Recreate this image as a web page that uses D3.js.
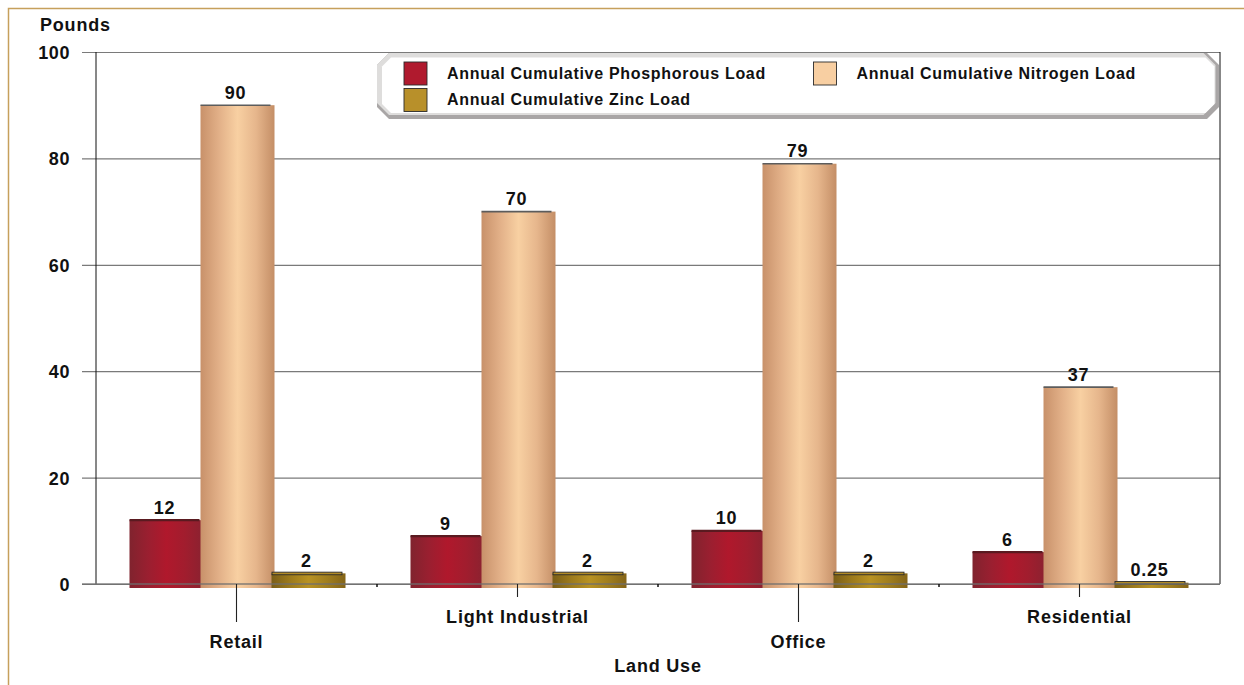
<!DOCTYPE html>
<html>
<head>
<meta charset="utf-8">
<script src="https://cdn.jsdelivr.net/npm/d3@7"></script>
<style>
  html, body { margin: 0; padding: 0; background: #fff; }
  svg { display: block; font-family: "Liberation Sans", Arial, sans-serif; font-weight: bold; }
</style>
</head>
<body>
<svg id="chart" width="1244" height="685"></svg>
<script>
// Land-use pollutant loads (pounds per year)
const categories = ["Retail", "Light Industrial", "Office", "Residential"];
const phosphorousLoad = [12, 9, 10, 6];
const nitrogenLoad = [90, 70, 79, 37];
const zincLoad = [2, 2, 2, 0.25];
const valueLabels = [
  ["12", "9", "10", "6"],
  ["90", "70", "79", "37"],
  ["2", "2", "2", "0.25"]
];
const yTicks = [0, 20, 40, 60, 80, 100];

const series = [
  { key: "Annual Cumulative Phosphorous Load", values: phosphorousLoad,
    stops: ["#80232e", "#9a1f30", "#b0182c", "#a11d2e", "#8a2230"], swatch: "#b01a2e",
    cap: "#5a1a20", capFill: null, capW: 2.2 },
  { key: "Annual Cumulative Nitrogen Load", values: nitrogenLoad,
    stops: ["#c8916a", "#e2b088", "#f8d0a2", "#e6b68c", "#c48e66"], swatch: "#f8cfa2",
    cap: "#5c5c5c", capFill: null, capW: 1.6 },
  { key: "Annual Cumulative Zinc Load", values: zincLoad,
    stops: ["#7a5e18", "#9c7a1c", "#b89222", "#a07e1e", "#846418"], swatch: "#b8902a",
    cap: "#2b2b2b", capFill: "#b08a26", capW: 0.9 }
];

const svg = d3.select("#chart");
const plotLeft = 96, plotRight = 1220, plotTop = 52, plotBase = 584, depth = 4;

const x = d3.scaleBand().domain(categories).range([plotLeft, plotRight]).padding(0);
const xs = d3.scaleBand().domain(series.map(s => s.key)).range([-107, 106]);
const barW = xs.bandwidth() + 3;
const y = d3.scaleLinear().domain([0, 100]).range([plotBase, plotTop]);

// outer frame
svg.append("path")
  .attr("d", `M8.5,685 V8.5 H1244`)
  .attr("fill", "none").attr("stroke", "#c6a05c").attr("stroke-width", 1.5);

// gradients for cylinder-like bar shading
const defs = svg.append("defs");
series.forEach((s, i) => {
  const g = defs.append("linearGradient").attr("id", "grad" + i)
    .attr("x1", "0%").attr("x2", "100%").attr("y1", "0%").attr("y2", "0%");
  s.stops.forEach((c, j) => g.append("stop").attr("offset", (j / (s.stops.length - 1) * 100) + "%").attr("stop-color", c));
});

// y axis with gridlines
const yAxis = svg.append("g").attr("transform", `translate(${plotLeft},0)`)
  .call(d3.axisLeft(y).tickValues(yTicks).tickSize(14).tickPadding(12).tickFormat(d3.format("d")));
yAxis.select(".domain").remove();
yAxis.selectAll(".tick line").attr("stroke", "#7a7a7a").attr("stroke-width", 1.2)
  .attr("x1", -14).attr("x2", plotRight - plotLeft);
yAxis.selectAll(".tick text")
  .attr("font-size", 18).attr("font-family", "Liberation Sans, Arial, sans-serif")
  .attr("font-weight", "bold").attr("fill", "#111").attr("letter-spacing", 0.6)
  .attr("dy", "0.36em");

// plot sides
svg.append("line").attr("x1", plotLeft).attr("x2", plotLeft).attr("y1", plotTop).attr("y2", plotBase)
  .attr("stroke", "#111").attr("stroke-width", 1);
svg.append("line").attr("x1", plotRight).attr("x2", plotRight).attr("y1", plotTop).attr("y2", plotBase)
  .attr("stroke", "#111").attr("stroke-width", 1);

// legend panel with bevelled octagonal border
function octagon(x0, y0, x1, y1, c) {
  return `M${x0 + c},${y0} H${x1 - c} L${x1},${y0 + c} V${y1 - c} L${x1 - c},${y1} H${x0 + c} L${x0},${y1 - c} V${y0 + c} Z`;
}
const legend = svg.append("g");
legend.append("path").attr("d", octagon(377, 53, 1219, 119, 12)).attr("fill", "#a9a6a6");
legend.append("path").attr("d", octagon(377, 53, 1215.5, 115, 12)).attr("fill", "#dedddc");
legend.append("path").attr("d", octagon(382, 57.5, 1214.5, 113, 9)).attr("fill", "#fff");
const legendPos = [[404, 62], [813.5, 62], [404, 88.5]];
series.forEach((s, i) => {
  const [lx, ly] = legendPos[i];
  legend.append("rect").attr("x", lx).attr("y", ly).attr("width", 23).attr("height", 23)
    .attr("fill", s.swatch).attr("stroke", "#2a2a2a").attr("stroke-width", 0.9);
  legend.append("text").attr("x", lx + 43).attr("y", ly + 16.5)
    .attr("font-size", 16).attr("letter-spacing", 0.7).attr("fill", "#111").text(s.key);
});

// bars
series.forEach((s, si) => {
  const g = svg.append("g");
  categories.forEach((c, ci) => {
    const v = s.values[ci];
    const bx = x(c) + x.bandwidth() / 2 + xs(s.key);
    const by = y(v);
    g.append("rect").attr("x", bx).attr("y", by).attr("width", barW)
      .attr("height", plotBase + depth - by).attr("fill", `url(#grad${si})`);
    if (s.capFill) {
      g.append("rect").attr("x", bx + 0.5).attr("y", by - 1.2).attr("width", barW - 4).attr("height", 2.6)
        .attr("fill", s.capFill).attr("stroke", s.cap).attr("stroke-width", s.capW);
    } else {
      g.append("line").attr("x1", bx).attr("x2", bx + barW - 4).attr("y1", by).attr("y2", by)
        .attr("stroke", s.cap).attr("stroke-width", s.capW);
    }
  });
});

// baseline over the bars
svg.append("line").attr("x1", 82).attr("x2", plotRight).attr("y1", plotBase).attr("y2", plotBase)
  .attr("stroke", "#6e6e6e").attr("stroke-width", 1.4).attr("stroke-opacity", 0.85);

// value labels
series.forEach((s, si) => {
  categories.forEach((c, ci) => {
    const bx = x(c) + x.bandwidth() / 2 + xs(s.key);
    svg.append("text").attr("x", bx + (barW - 4) / 2).attr("y", y(s.values[ci]) - 6.5)
      .attr("text-anchor", "middle").attr("font-size", 18).attr("letter-spacing", 0.8)
      .attr("fill", "#111").text(valueLabels[si][ci]);
  });
});

// x axis: staggered category labels
const xAxis = svg.append("g").attr("transform", `translate(0,${plotBase})`)
  .call(d3.axisBottom(x).tickSize(0).tickPadding(0));
xAxis.select(".domain").remove();
xAxis.selectAll(".tick line")
  .attr("y2", (d, i) => i % 2 === 0 ? 38 : 13)
  .attr("stroke", "#222").attr("stroke-width", 1.1);
xAxis.selectAll(".tick text")
  .attr("y", (d, i) => i % 2 === 0 ? 64 : 39).attr("dy", null)
  .attr("font-size", 18).attr("letter-spacing", 0.8).attr("font-family", "Liberation Sans, Arial, sans-serif")
  .attr("font-weight", "bold").attr("fill", "#111");
// small marks at category boundaries
svg.append("g").selectAll("line").data(categories.slice(1)).join("line")
  .attr("x1", d => x(d)).attr("x2", d => x(d)).attr("y1", plotBase).attr("y2", plotBase + 3)
  .attr("stroke", "#111").attr("stroke-width", 1.5);

// axis titles
svg.append("text").attr("x", 40).attr("y", 31).attr("font-size", 18).attr("letter-spacing", 0.8)
  .attr("fill", "#111").text("Pounds");
svg.append("text").attr("x", (plotLeft + plotRight) / 2).attr("y", 672).attr("text-anchor", "middle")
  .attr("font-size", 18).attr("letter-spacing", 0.8).attr("fill", "#111").text("Land Use");
</script>
</body>
</html>
